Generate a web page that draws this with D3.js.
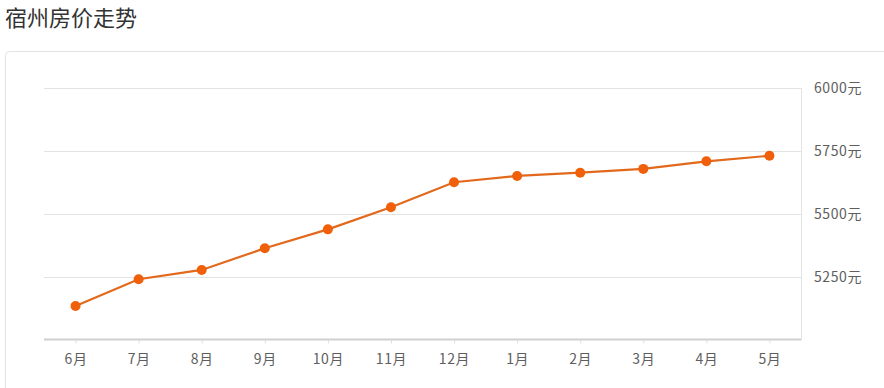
<!DOCTYPE html>
<html><head><meta charset="utf-8">
<script src="https://cdn.jsdelivr.net/npm/d3@7"></script>
<style>
html,body{margin:0;padding:0;background:#fff;}
svg{display:block;}
</style></head>
<body>
<svg id="c" width="884" height="388"></svg>
<script>
const title = "宿州房价走势";
const months = ["6月","7月","8月","9月","10月","11月","12月","1月","2月","3月","4月","5月"];
const prices = [5135,5241,5278,5364,5439,5527,5626,5651,5664,5679,5709,5731];
const yTicks = [5250,5500,5750,6000];
const unit = "元";

const svg = d3.select("#c");
const font = "'Noto Sans CJK SC','Noto Sans',sans-serif";

svg.append("text").attr("x",5).attr("y",26).text(title)
  .attr("font-family",font).attr("font-size",22).attr("fill","#333");

// card
svg.append("rect").attr("x",5.5).attr("y",51.5).attr("width",900).attr("height",360)
  .attr("rx",4).attr("fill","#fff").attr("stroke","#e2e2e2");

const L=44, R=801, T=88, B=340;
const x = d3.scalePoint().domain(months).range([L,R]).padding(0.5);
const y = d3.scaleLinear().domain([5000,6000]).range([B,T]);

// gridlines
svg.append("g").selectAll("line").data(yTicks).join("line")
  .attr("x1",L).attr("x2",R).attr("y1",d=>Math.round(y(d))+0.5).attr("y2",d=>Math.round(y(d))+0.5)
  .attr("stroke","#e3e3e3");
// right border
svg.append("line").attr("x1",R+0.5).attr("x2",R+0.5).attr("y1",y(6000)).attr("y2",B)
  .attr("stroke","#e3e3e3");

// y axis labels on right
const yAxis = d3.axisRight(y).tickValues(yTicks).tickSize(0).tickPadding(13)
  .tickFormat(d=>d+unit);
const gy = svg.append("g").attr("transform",`translate(${R},0)`).call(yAxis);
gy.select(".domain").remove();
gy.selectAll("text").attr("font-family",font).attr("font-size",14).attr("fill","#5e5e5e")
  .attr("letter-spacing",0.6);

// x axis
const xAxis = d3.axisBottom(x).tickSize(4).tickPadding(11).tickSizeOuter(0);
const gx = svg.append("g").attr("transform",`translate(0,${B-0.5})`).call(xAxis);
gx.select(".domain").attr("stroke","#d0d0d0").attr("stroke-width",2).attr("d",`M${L},0H${R}`);
gx.selectAll(".tick line").attr("stroke","#ddd").attr("y1",1);
gx.selectAll("text").attr("font-family",font).attr("font-size",14).attr("fill","#5e5e5e")
  .attr("letter-spacing",0.6);

// line
const line = d3.line().x((d,i)=>x(months[i])).y(d=>y(d));
svg.append("path").datum(prices).attr("d",line)
  .attr("fill","none").attr("stroke","#e2691c").attr("stroke-width",2.2);
svg.append("g").selectAll("circle").data(prices).join("circle")
  .attr("cx",(d,i)=>x(months[i])).attr("cy",d=>y(d)).attr("r",5)
  .attr("fill","#f0600a");
</script>
</body></html>
